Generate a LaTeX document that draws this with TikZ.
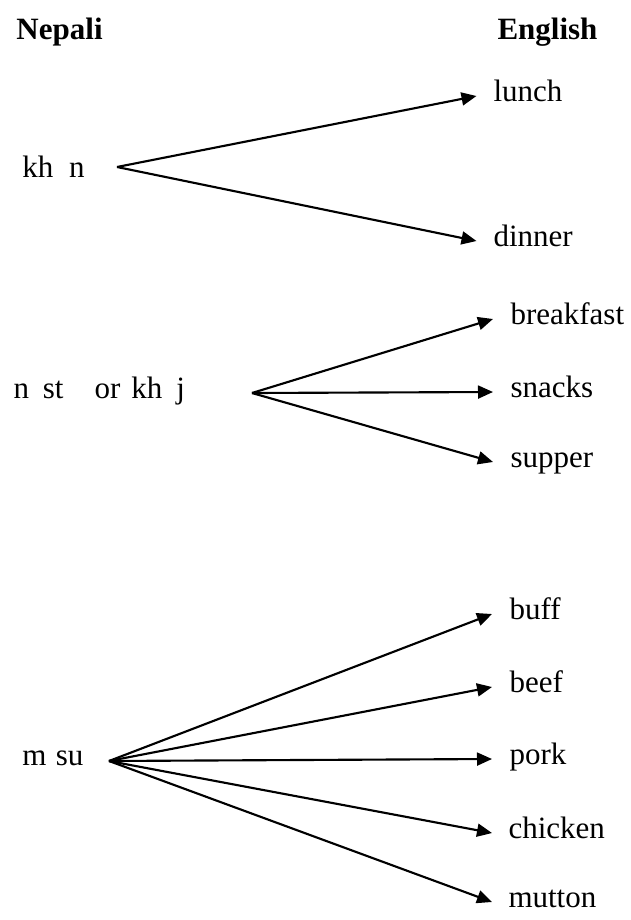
\documentclass[tikz,border=0pt]{standalone}
\usepackage{fontspec}
\setmainfont{Liberation Serif}
\usetikzlibrary{arrows.meta}

\begin{document}
\begin{tikzpicture}[
			x=0.4pt, y=-0.4pt,
			every node/.style={inner sep=0pt, anchor=mid west, font=\fontsize{12.4}{14}\selectfont},
			head/.style={anchor=base west, font=\fontsize{12.4}{14}\selectfont\bfseries},
			link/.style={->, line width=0.85pt},
			>={Triangle[length=6pt,width=5.2pt]},
		]
		\useasboundingbox (0,0) rectangle (631,920);

		% Column headings
		\node[head] (nepali) at (16,40) {Nepali};
		\node[head] (english) at (497,40) {English};

		% Nepali words
		\node[] (khana) at (22,172) {kh\hspace{.5em}n};
		\node[] (nasta) at (13,393) {n\hspace{.45em}st\hspace{1em}or\hspace{.35em}kh\hspace{.45em}j};
		\node[] (masu) at (22,760) {m\hspace{.3em}su};

		% Points where the lines fan out
		\coordinate (khana-o) at (117,167);
		\coordinate (nasta-o) at (252,393);
		\coordinate (masu-o) at (109,761);

		% English words
		\node[] (lunch) at (493,96) {lunch};
		\node[] (dinner) at (493,241) {dinner};
		\node[] (breakfast) at (510,319) {breakfast};
		\node[] (snacks) at (510,392) {snacks};
		\node[] (supper) at (510,462) {supper};
		\node[] (buff) at (509,614) {buff};
		\node[] (beef) at (509,687) {beef};
		\node[] (pork) at (509,759) {pork};
		\node[] (chicken) at (508,833) {chicken};
		\node[] (mutton) at (508,902) {mutton};

		% Connections from khana
		\draw[link] (khana-o) -- ([xshift=-6.6pt]lunch.mid west);
		\draw[link] (khana-o) -- ([xshift=-6.6pt]dinner.mid west);

		% Connections from nasta or khaja
		\draw[link] (nasta-o) -- ([xshift=-6.8pt]breakfast.mid west);
		\draw[link] (nasta-o) -- ([xshift=-6.8pt]snacks.mid west);
		\draw[link] (nasta-o) -- ([xshift=-6.8pt]supper.mid west);

		% Connections from masu
		\draw[link] (masu-o) -- ([xshift=-6.8pt]buff.mid west);
		\draw[link] (masu-o) -- ([xshift=-6.8pt]beef.mid west);
		\draw[link] (masu-o) -- ([xshift=-6.8pt]pork.mid west);
		\draw[link] (masu-o) -- ([xshift=-6.4pt]chicken.mid west);
		\draw[link] (masu-o) -- ([xshift=-6.4pt]mutton.mid west);
	\end{tikzpicture}
\end{document}
